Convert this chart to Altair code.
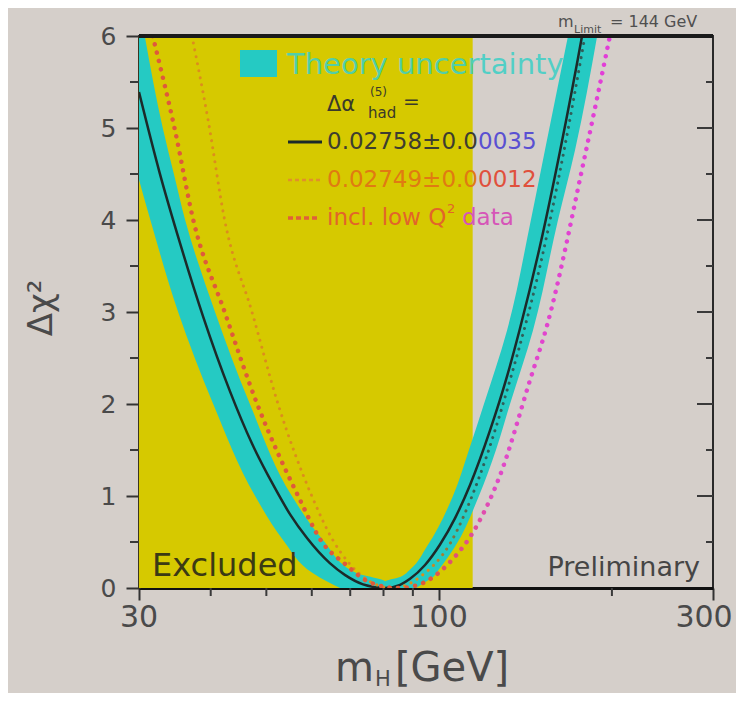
import altair as alt
import pandas as pd

FONT = "DejaVu Sans"
BG = "#d5cfca"
YELLOW = "#d6c900"
CYAN = "#25cac3"

W, H = 574, 552

# Excluded region (GeV)
excl_lo = [30.0]
excl_hi = [114.4]

# Solid line: delta alpha = 0.02758 +- 0.00035
black_m = [30.0, 32.6, 35.4, 38.8, 43.2, 47.2, 51.4, 55.0, 58.9, 64.5, 68.6, 73.7, 80.5,
           85.5, 89.0, 94.5, 100.3, 106.6, 113.2, 122.6, 131.3, 138.3, 149.9, 162.3, 177.4, 190.8]
black_d = [5.39, 4.51, 3.74, 2.95, 2.14, 1.57, 1.12, 0.80, 0.54, 0.27, 0.14, 0.04, 0.00,
           0.035, 0.10, 0.25, 0.47, 0.76, 1.12, 1.71, 2.30, 2.82, 3.72, 4.74, 6.00, 7.15]

# Theory band, left branch: at each delta chi2 level, outer and inner mass
bandL_d = [0.00, 0.07, 0.16, 0.52, 1.00, 2.00, 3.00, 4.00, 4.47, 5.00, 6.00]
bandL_outer = [67.2, 63.8, 60.3, 53.5, 47.8, 40.4, 35.1, 31.4, 29.9, 28.3, 25.7]
bandL_inner = [80.5, 80.5, 71.9, 62.8, 55.4, 46.8, 40.7, 36.1, 34.6, 33.0, 30.7]

# Theory band, right branch
bandR_d = [0.00, 0.07, 0.12, 0.20, 0.45, 1.00, 1.50, 2.00, 2.80, 4.00, 4.76, 6.00]
bandR_inner = [80.5, 80.5, 85.5, 89.0, 95.2, 105.7, 112.7, 119.7, 131.3, 144.5, 152.9, 167.7]
bandR_outer = [91.2, 94.9, 97.6, 99.9, 106.6, 117.3, 125.6, 132.9, 145.7, 161.1, 172.5, 188.5]

# Dashed: 0.02749 +- 0.00012
orange_m = [37.1, 39.6, 42.3, 47.2, 52.4, 60.0, 65.3, 69.9, 75.8, 82.8, 89.0, 92.6, 104.4,
            116.9, 132.9, 149.9, 164.4, 179.5]
orange_d = [6.00, 5.08, 4.00, 3.00, 2.00, 1.00, 0.52, 0.26, 0.07, 0.00, 0.05, 0.12, 0.48,
            1.17, 2.26, 3.50, 4.70, 6.00]

# Dotted: incl. low Q^2 data
lowq_m = [31.7, 34.7, 37.3, 42.3, 48.2, 56.8, 62.5, 68.6, 75.8, 84.8, 91.5, 104.4, 116.4,
          127.6, 144.0, 154.1, 179.5, 198.4]
lowq_d = [6.00, 4.96, 4.00, 3.00, 2.00, 1.00, 0.50, 0.26, 0.06, 0.00, 0.03, 0.28, 0.68,
          1.22, 2.26, 2.85, 4.70, 6.00]

# Axis ticks and labels
x_major = [30, 100, 300]
x_label_text = ["30", "100", "300"]
x_label_shift = [0, 0, -9]
x_minor = [40, 50, 60, 70, 80, 90, 200]
y_major = [0, 1, 2, 3, 4, 5, 6]
y_minor = [0.5, 1.5, 2.5, 3.5, 4.5, 5.5]
y_right_major = [1, 2, 3, 4, 5]

xs = alt.Scale(type="log", domain=[30, 300], nice=False)
ys = alt.Scale(domain=[0, 6], nice=False, zero=False)
XAX = alt.Axis(values=x_major, tickSize=12, labels=False, tickColor="#333333", tickWidth=2,
               domainColor="#111111", domainWidth=3, grid=False, title=None)
YAX = alt.Axis(values=y_major, tickSize=13, labelFontSize=25, labelFont=FONT, labelColor="#4a4a4a",
               labelPadding=10, tickColor="#333333", tickWidth=2, domainColor="#3a3520", domainWidth=3,
               grid=False, title=None, labelFlush=False, format="d")
dummy = alt.Data(values=[{}])


def X(f):
    return alt.X(f, scale=xs, axis=XAX)


def Y(f):
    return alt.Y(f, scale=ys, axis=YAX)


yellow = alt.Chart(pd.DataFrame({"lo": excl_lo, "hi": excl_hi})).mark_rect(color=YELLOW).encode(
    x=X("lo:Q"), x2="hi:Q", y=alt.value(0), y2=alt.value(H)
)

bandL = alt.Chart(pd.DataFrame({"d": bandL_d, "o": bandL_outer, "i": bandL_inner})).mark_area(
    orient="horizontal", interpolate="monotone", clip=True, color=CYAN
).encode(y=Y("d:Q"), x=X("o:Q"), x2="i:Q")

bandR = alt.Chart(pd.DataFrame({"d": bandR_d, "o": bandR_outer, "i": bandR_inner})).mark_area(
    orient="horizontal", interpolate="monotone", clip=True, color=CYAN
).encode(y=Y("d:Q"), x=X("i:Q"), x2="o:Q")

black = alt.Chart(pd.DataFrame({"m": black_m, "d": black_d})).mark_line(
    interpolate="monotone", clip=True, color="#1c2a2a", strokeWidth=2.5
).encode(x=X("m:Q"), y=Y("d:Q"))

orange_grad = alt.LinearGradient(gradient="linear", x1=0, x2=1, y1=0, y2=0, stops=[
    alt.GradientStop(offset=0, color="#dc8d1c"), alt.GradientStop(offset=0.6, color="#dc8d1c"),
    alt.GradientStop(offset=0.72, color="#2f5f5a"), alt.GradientStop(offset=1, color="#2f5f5a")])
orange = alt.Chart(pd.DataFrame({"m": orange_m, "d": orange_d})).mark_line(
    interpolate="monotone", clip=True, stroke=orange_grad, strokeWidth=3, strokeDash=[0.1, 7], strokeCap="round"
).encode(x=X("m:Q"), y=Y("d:Q"))

lowq_grad = alt.LinearGradient(gradient="linear", x1=0, x2=1, y1=0, y2=0, stops=[
    alt.GradientStop(offset=0, color="#df5a3a"), alt.GradientStop(offset=0.6, color="#df5a3a"),
    alt.GradientStop(offset=0.75, color="#e04ac6"), alt.GradientStop(offset=1, color="#e23ed8")])
lowq = alt.Chart(pd.DataFrame({"m": lowq_m, "d": lowq_d})).mark_line(
    interpolate="monotone", clip=True, stroke=lowq_grad, strokeWidth=4.5, strokeDash=[0.1, 8.5], strokeCap="round"
).encode(x=X("m:Q"), y=Y("d:Q"))

tick_color = "#3a3a3a"
xminor = alt.Chart(pd.DataFrame({"m": x_minor})).mark_rule(color=tick_color, strokeWidth=2).encode(
    x=X("m:Q"), y=alt.value(H), y2=alt.value(H + 8))
yminor_l = alt.Chart(pd.DataFrame({"d": y_minor})).mark_rule(color=tick_color, strokeWidth=2).encode(
    y=Y("d:Q"), x=alt.value(-9), x2=alt.value(0))
yminor_r = alt.Chart(pd.DataFrame({"d": y_minor})).mark_rule(color=tick_color, strokeWidth=2).encode(
    y=Y("d:Q"), x=alt.value(W - 7), x2=alt.value(W))
ymajor_r = alt.Chart(pd.DataFrame({"d": y_right_major})).mark_rule(color=tick_color, strokeWidth=2).encode(
    y=Y("d:Q"), x=alt.value(W - 16), x2=alt.value(W))

xlabels = [
    alt.Chart(pd.DataFrame({"m": [m], "t": [t]})).mark_text(
        font=FONT, fontSize=30, color="#4a4a4a", baseline="alphabetic", align="center", dx=s
    ).encode(x=X("m:Q"), y=alt.value(H + 39), text="t:N")
    for m, t, s in zip(x_major, x_label_text, x_label_shift)
]

top_rule = alt.Chart(dummy).mark_rule(color="#1a1a1a", strokeWidth=4).encode(
    x=alt.value(0), x2=alt.value(W), y=alt.value(0))


def txt(s, x, y, size, color, align="left", baseline="middle", angle=None, opacity=1.0):
    kw = dict(text=s, fontSize=size, color=color, align=align, baseline=baseline, font=FONT, opacity=opacity)
    if angle is not None:
        kw["angle"] = angle
    return alt.Chart(dummy).mark_text(**kw).encode(x=alt.value(x), y=alt.value(y))


def seg(x1, x2, y, color, width, dash=None):
    kw = dict(color=color, strokeWidth=width)
    if dash:
        kw["strokeDash"] = dash
    return alt.Chart(dummy).mark_rule(**kw).encode(x=alt.value(x1), x2=alt.value(x2), y=alt.value(y))


legend_sq = alt.Chart(dummy).mark_rect(color=CYAN).encode(
    x=alt.value(101), x2=alt.value(138), y=alt.value(14), y2=alt.value(41))

texts = [
    txt("Theory uncertainty", 148, 29, 29, "#3ccfc6", opacity=0.85),
    txt("Δα", 188, 69, 21, "#3a3a2a"),
    txt("(5)", 231, 56, 12, "#3a3a2a"),
    txt("had", 229, 77, 15, "#3a3a2a"),
    txt("=", 264, 66, 20, "#3a3a2a"),
    txt("0.02758±0.0", 188, 106, 23, "#3d3d30"),
    txt("0035", 339, 106, 23, "#5a50d2"),
    txt("0.02749±0.0", 188, 144, 23, "#e07a12"),
    txt("0012", 339, 144, 23, "#e0503c"),
    txt("incl. low Q", 188, 182, 23, "#e2642a"),
    txt("2", 308, 173, 13, "#e2642a"),
    txt("data", 323, 182, 23, "#d655b8"),
    txt("Excluded", 13, 540, 32, "#3b3a14", baseline="alphabetic"),
    txt("Preliminary", 561, 540, 27, "#454545", align="right", baseline="alphabetic"),
    txt("m", 419, -9, 16, "#505050", baseline="alphabetic"),
    txt("Limit", 435, -3, 11, "#505050", baseline="alphabetic"),
    txt("= 144 GeV", 471, -9, 16, "#505050", baseline="alphabetic"),
    txt("Δχ²", -97, 272, 34, "#4a4a4a", align="center", angle=270),
    txt("m", 196, 645, 40, "#4a4a4a", baseline="alphabetic"),
    txt("H", 236, 650, 21, "#4a4a4a", baseline="alphabetic"),
    txt("[GeV]", 256, 645, 40, "#4a4a4a", baseline="alphabetic"),
]

legend_lines = [
    seg(149, 183, 106, "#1c2a2a", 3),
    seg(149, 181, 144, "#e0902a", 2.5, [4, 3]),
    seg(149, 181, 182, "#e0603a", 3.5, [5, 3]),
]

chart = alt.layer(
    yellow, bandL, bandR, black, orange, lowq,
    xminor, yminor_l, yminor_r, ymajor_r, top_rule, *xlabels,
    legend_sq, *legend_lines, *texts,
).properties(
    width=W, height=H, background=BG,
    padding={"left": 131, "top": 28, "right": 23, "bottom": 105},
    autosize=alt.AutoSizeParams(type="none"),
).configure_view(stroke="#2a2a2a", strokeWidth=2)

chart.save("out.html", embed_options={"renderer": "svg", "actions": False})
